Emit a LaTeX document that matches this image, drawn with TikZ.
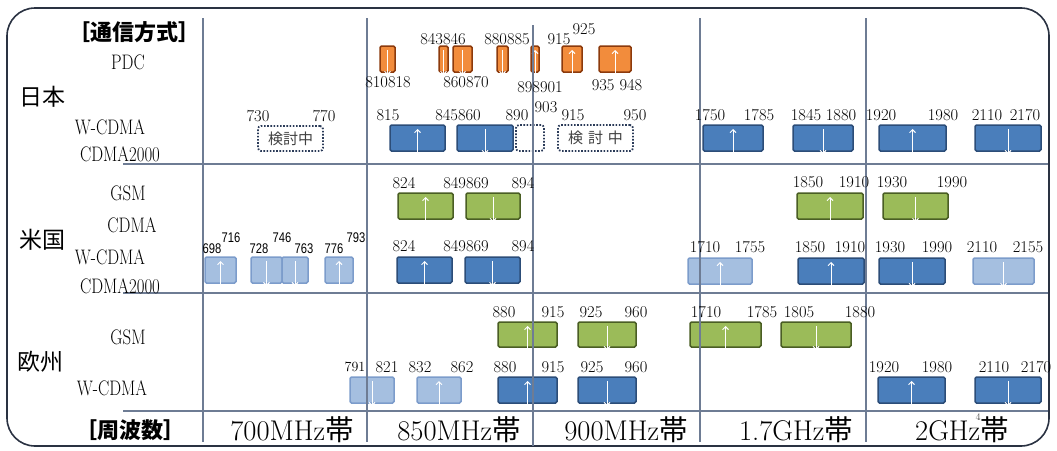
\documentclass[tikz,border=0pt]{standalone}
\usepackage{fontspec}
\usepackage{graphicx}
\usetikzlibrary{arrows.meta}
\newfontfamily\jp{Noto Sans CJK JP}
\newfontfamily\lsans{Liberation Sans}
\definecolor{orf}{HTML}{F28C3C}
\definecolor{ord}{HTML}{8C3A0C}
\definecolor{blf}{HTML}{4A7EBB}
\definecolor{bld}{HTML}{2C4D78}
\definecolor{grf}{HTML}{9BBB59}
\definecolor{grd}{HTML}{4A5E24}
\definecolor{lbf}{HTML}{A5BFE0}
\definecolor{lbd}{HTML}{7C9CCB}
\definecolor{gridc}{HTML}{6E7C94}
\definecolor{dotc}{HTML}{2A3A58}
\definecolor{framec}{HTML}{2A3242}
\tikzset{
 band/.style={draw, line width=1.5pt, rounded corners=1.5pt, inner sep=0pt, outer sep=0pt},
 orb/.style={band, fill=orf, draw=ord},
 blb/.style={band, fill=blf, draw=bld},
 grb/.style={band, fill=grf, draw=grd},
 lbb/.style={band, fill=lbf, draw=lbd},
 dotb/.style={draw=dotc, line width=1.8pt, dash pattern=on 1.6pt off 1.6pt, rounded corners=3pt, inner sep=0pt, text=black!75, font=\jp\fontsize{15}{16}\selectfont},
 arrw/.style={white, line width=0.9pt, -{Straight Barb[length=3pt,width=6pt]}},
 num/.style={font=\fontsize{16.5}{18}\selectfont, inner sep=0pt},
 snum/.style={font=\lsans\fontsize{14}{16}\selectfont, inner sep=0pt},
 rowl/.style={font=\fontsize{21}{24}\selectfont, inner sep=0pt},
 reg/.style={font=\jp\fontsize{23}{25}\selectfont, inner sep=0pt},
 hdr/.style={font=\jp\bfseries\fontsize{22}{24}\selectfont, inner sep=0pt},
 bandl/.style={font=\fontsize{28.5}{31}\selectfont, inner sep=0pt},
 gridl/.style={draw=gridc, line width=1.2pt},
}
\newcommand\nar[1]{\scalebox{0.8}[1]{#1}}
\newcommand\bbox[7]{%
 \node[#2, minimum width={(#4-#3)*1pt}, minimum height={(#6-#5)*1pt}] (#1) at ({(#3+#4)/2},{(#5+#6)/2}) {};
 \if#7u\draw[arrw] ([yshift=-3pt]#1.south) -- ([yshift=-4pt]#1.north);\else\draw[arrw] ([yshift=-4pt]#1.north) -- ([yshift=-3pt]#1.south);\fi}
\begin{document}
\begin{tikzpicture}[x=1pt,y=-1pt]
\useasboundingbox (0,0) rectangle (1057,450);
\draw[draw=framec, line width=1.6pt, rounded corners=28pt] (7,8) rectangle (1049,446);
% Japan PDC
\bbox{p1}{orb}{380}{395}{46}{72}{d}
\bbox{p2}{orb}{439}{448}{46}{72}{d}
\bbox{p3}{orb}{453}{472}{46}{72}{d}
\bbox{p4}{orb}{497}{508}{46}{72}{d}
\bbox{p5}{orb}{531}{539}{46}{72}{u}
\bbox{p6}{orb}{562}{582}{46}{72}{u}
\bbox{p7}{orb}{599}{631}{46}{72}{u}
% Japan W-CDMA
\bbox{j1}{blb}{390}{445}{125}{151}{u}
\bbox{j2}{blb}{457}{513}{125}{151}{d}
\bbox{j3}{blb}{703}{763}{125}{151}{u}
\bbox{j4}{blb}{793}{853}{125}{151}{d}
\bbox{j5}{blb}{879}{946}{125}{151}{u}
\bbox{j6}{blb}{975}{1041}{125}{151}{d}
\node[dotb, minimum width=65pt, minimum height=25pt] (d1) at (290.5,138.5) {検討中};
\node[dotb, minimum width=28pt, minimum height=26pt] (d2) at (530,138) {};
\node[dotb, minimum width=75pt, minimum height=26pt] (d3) at (595.5,138) {検\,\,討\,\,中};
% US GSM
\bbox{g1}{grb}{398}{453}{193}{219}{u}
\bbox{g2}{grb}{466}{520}{193}{219}{d}
\bbox{g3}{grb}{797}{863}{193}{219}{u}
\bbox{g4}{grb}{883}{948}{193}{219}{d}
% US W-CDMA
\bbox{u1}{lbb}{205}{236}{257}{283}{u}
\bbox{u2}{lbb}{251}{282}{257}{283}{d}
\bbox{u3}{lbb}{282}{308}{257}{283}{d}
\bbox{u4}{lbb}{325}{353}{257}{283}{u}
\bbox{u5}{blb}{397}{452}{257}{283}{u}
\bbox{u6}{blb}{465}{520}{257}{283}{d}
\bbox{u7}{lbb}{688}{752}{258}{284}{u}
\bbox{u8}{blb}{798}{864}{258}{284}{u}
\bbox{u9}{blb}{879}{945}{258}{284}{d}
\bbox{u10}{lbb}{973}{1034}{258}{284}{d}
% EU GSM
\bbox{e1}{grb}{498}{557}{322}{347}{u}
\bbox{e2}{grb}{578}{636}{322}{347}{d}
\bbox{e3}{grb}{690}{761}{322}{347}{u}
\bbox{e4}{grb}{781}{851}{322}{347}{d}
% EU W-CDMA
\bbox{w1}{lbb}{350}{394}{377}{403}{d}
\bbox{w2}{lbb}{417}{461}{377}{403}{u}
\bbox{w3}{blb}{498}{557}{377}{403}{u}
\bbox{w4}{blb}{578}{636}{377}{403}{d}
\bbox{w5}{blb}{878}{945}{377}{403}{u}
\bbox{w6}{blb}{975}{1041}{377}{403}{d}
% grid
\coordinate (v1t) at (203,18); \coordinate (v1b) at (203,442);
\coordinate (v2t) at (367,18); \coordinate (v2b) at (367,442);
\coordinate (v3t) at (533,25); \coordinate (v3b) at (533,446);
\coordinate (v4t) at (700,18); \coordinate (v4b) at (700,442);
\coordinate (v5t) at (866,18); \coordinate (v5b) at (866,442);
\coordinate (h1l) at (123,164); \coordinate (h1r) at (1048,164);
\coordinate (h2l) at (123,293); \coordinate (h2r) at (1048,293);
\coordinate (h3l) at (123,411); \coordinate (h3r) at (1048,411);
\draw[gridl] (v1t) -- (v1b); \draw[gridl] (v2t) -- (v2b); \draw[gridl] (v3t) -- (v3b);
\draw[gridl] (v4t) -- (v4b); \draw[gridl] (v5t) -- (v5b);
\draw[gridl] (h1l) -- (h1r); \draw[gridl] (h2l) -- (h2r); \draw[gridl] (h3l) -- (h3r);
% left labels
\node[hdr] (hd1) at (134,32) {［通信方式］};
\node[hdr] (hd2) at (130,430) {［周波数］};
\node[reg] (r1) at (42,97) {日本};
\node[reg] (r2) at (42,240) {米国};
\node[reg] (r3) at (40,362) {欧州};
\node[rowl] (t1) at (128,62) {\nar{PDC}};
\node[rowl] (t2) at (110,127) {\nar{W-CDMA}};
\node[rowl] (t3) at (120,154) {\nar{CDMA2000}};
\node[rowl] (t4) at (128,193) {\nar{GSM}};
\node[rowl] (t5) at (132,225) {\nar{CDMA}};
\node[rowl] (t6) at (110,257) {\nar{W-CDMA}};
\node[rowl] (t7) at (120,286) {\nar{CDMA2000}};
\node[rowl] (t8) at (128,337) {\nar{GSM}};
\node[rowl] (t9) at (112,388) {\nar{W-CDMA}};
% band labels
\node[bandl] (b1) at (292,430) {700MHz{\jp 帯}};
\node[bandl] (b2) at (459,430) {850MHz{\jp 帯}};
\node[bandl] (b3) at (626,430) {900MHz{\jp 帯}};
\node[bandl] (b4) at (796,430) {1.7GHz{\jp 帯}};
\node[bandl] (b5) at (962,430) {2GHz{\jp 帯}};
\node[font=\fontsize{10}{11}\selectfont, inner sep=0pt, text=black!70] (pg) at (978,417) {4};
% PDC numbers
\node[num] (a1) at (443,39) {843846};
\node[num] (a2) at (507,39) {880885};
\node[num] (a3) at (559,39) {915};
\node[num] (a4) at (584,29) {925};
\node[num] (a5) at (388,82) {810818};
\node[num] (a6) at (466,82) {860870};
\node[num] (a7) at (540,87) {898901};
\node[num] (a8) at (617,85) {935 948};
% Japan W-CDMA numbers
\node[num] (c1) at (258,116) {730};
\node[num] (c2) at (324,116) {770};
\node[num] (c3) at (388,115) {815};
\node[num] (c4) at (458,115) {845860};
\node[num] (c5) at (517,115) {890};
\node[num] (c6) at (546,107) {903};
\node[num] (c7) at (573,115) {915};
\node[num] (c8) at (635,115) {950};
\node[num] (c9) at (710,115) {1750};
\node[num] (c10) at (759,115) {1785};
\node[num] (c11) at (806,115) {1845};
\node[num] (c12) at (841,115) {1880};
\node[num] (c13) at (881,115) {1920};
\node[num] (c14) at (943,115) {1980};
\node[num] (c15) at (987,115) {2110};
\node[num] (c16) at (1025,115) {2170};
% US GSM numbers
\node[num] (s1) at (404,183) {824};
\node[num] (s2) at (466,183) {849869};
\node[num] (s3) at (523,183) {894};
\node[num] (s4) at (808,182) {1850};
\node[num] (s5) at (854,182) {1910};
\node[num] (s6) at (892,182) {1930};
\node[num] (s7) at (952,182) {1990};
% US W-CDMA numbers
\node[snum] (k1) at (212,249) {\nar{698}};
\node[snum] (k2) at (231,238) {\nar{716}};
\node[snum] (k3) at (259,249) {\nar{728}};
\node[snum] (k4) at (282,238) {\nar{746}};
\node[snum] (k5) at (304,249) {\nar{763}};
\node[snum] (k6) at (334,249) {\nar{776}};
\node[snum] (k7) at (356,238) {\nar{793}};
\node[num] (m1) at (404,246) {824};
\node[num] (m2) at (466,246) {849869};
\node[num] (m3) at (523,246) {894};
\node[num] (m4) at (705,247) {1710};
\node[num] (m5) at (750,247) {1755};
\node[num] (m6) at (810,247) {1850};
\node[num] (m7) at (850,247) {1910};
\node[num] (m8) at (890,247) {1930};
\node[num] (m9) at (937,247) {1990};
\node[num] (m10) at (982,247) {2110};
\node[num] (m11) at (1028,247) {2155};
% EU GSM numbers
\node[num] (q1) at (504,312) {880};
\node[num] (q2) at (553,312) {915};
\node[num] (q3) at (591,312) {925};
\node[num] (q4) at (636,312) {960};
\node[num] (q5) at (706,312) {1710};
\node[num] (q6) at (762,312) {1785};
\node[num] (q7) at (799,312) {1805};
\node[num] (q8) at (860,312) {1880};
% EU W-CDMA numbers
\node[num, font=\fontsize{14}{16}\selectfont] (z1) at (355,367) {791};
\node[num] (z2) at (387,367) {821};
\node[num] (z3) at (420,367) {832};
\node[num] (z4) at (462,367) {862};
\node[num] (z5) at (505,367) {880};
\node[num] (z6) at (553,367) {915};
\node[num] (z7) at (592,367) {925};
\node[num] (z8) at (636,367) {960};
\node[num] (z9) at (884,367) {1920};
\node[num] (z10) at (937,367) {1980};
\node[num] (z11) at (994,367) {2110};
\node[num] (z12) at (1036,367) {2170};
\end{tikzpicture}
\end{document}
